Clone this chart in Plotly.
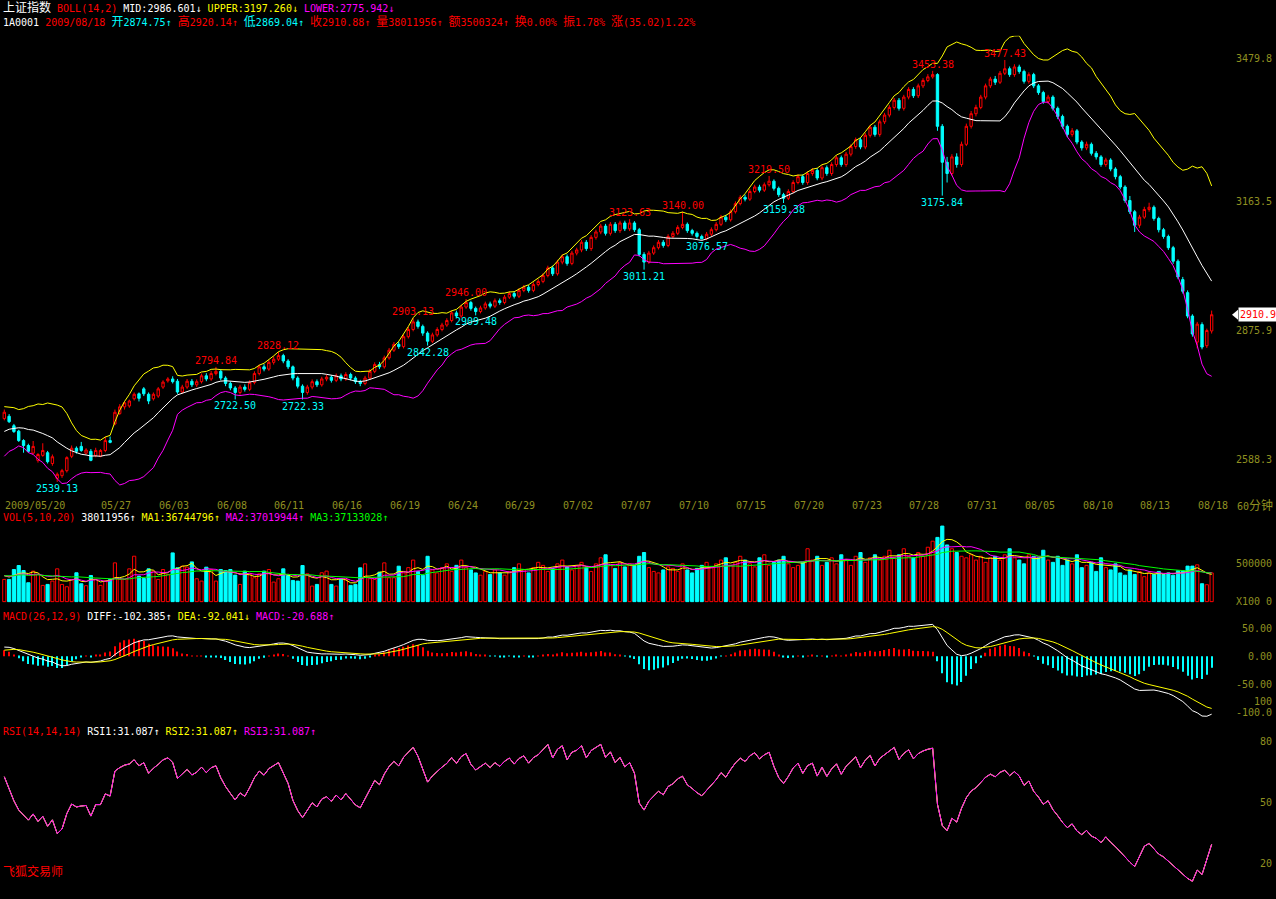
import numpy as np
import pandas as pd
import plotly.graph_objects as go

W, H = 1276, 899
BG = "#000000"
UP = "#ff0000"
DN = "#00ffff"
WHITE = "#ffffff"
YEL = "#ffff00"
MAG = "#ff00ff"
GRN = "#00ff00"
AXC = "#909020"
MONO = "DejaVu Sans Mono, Noto Sans CJK SC, monospace"
NB = "\u00a0"

# ---------------- data (60-minute bars, 4 per trading day) ----------------
day_labels = ["2009/05/20", "05/27", "06/03", "06/08", "06/11", "06/16", "06/19", "06/24",
              "06/29", "07/02", "07/07", "07/10", "07/15", "07/20", "07/23", "07/28",
              "07/31", "08/05", "08/10", "08/13", "08/18"]
day_label_days = [0, 5, 8, 11, 14, 17, 20, 23, 26, 29, 32, 35, 38, 41, 44, 47, 50, 53, 56, 59, 62]
bars_per_day = 4

opens = [
    2680, 2685, 2664, 2652, 2631, 2620, 2603, 2587, 2598, 2604,
    2580, 2547, 2553, 2564, 2596, 2614, 2618, 2603, 2607, 2598,
    2596, 2609, 2631, 2668, 2691, 2706, 2708, 2724, 2735, 2746,
    2734, 2724, 2730, 2750, 2764, 2768, 2763, 2739, 2750, 2763,
    2755, 2762, 2775, 2768, 2780, 2785, 2770, 2758, 2748, 2738,
    2750, 2745, 2760, 2780, 2795, 2790, 2805, 2812, 2820, 2808,
    2795, 2770, 2752, 2738, 2750, 2762, 2755, 2768, 2772, 2765,
    2775, 2768, 2778, 2770, 2762, 2758, 2770, 2785, 2800, 2795,
    2815, 2832, 2845, 2840, 2862, 2878, 2895, 2885, 2870, 2852,
    2866, 2878, 2888, 2898, 2915, 2908, 2928, 2938, 2925, 2918,
    2926, 2935, 2930, 2942, 2938, 2950, 2958, 2952, 2965, 2972,
    2965, 2978, 2985, 2998, 3015, 3002, 3028, 3040, 3025, 3048,
    3055, 3072, 3058, 3083, 3095, 3108, 3092, 3112, 3098, 3115,
    3102, 3115, 3100, 3045, 3028, 3048, 3060, 3072, 3065, 3085,
    3092, 3105, 3112, 3098, 3092, 3085, 3080, 3090, 3100, 3112,
    3128, 3122, 3140, 3158, 3172, 3168, 3185, 3195, 3188, 3200,
    3208, 3192, 3178, 3170, 3185, 3205, 3218, 3205, 3225, 3232,
    3215, 3238, 3225, 3245, 3260, 3245, 3268, 3285, 3300, 3284,
    3310, 3328, 3312, 3340, 3355, 3372, 3388, 3370, 3395, 3412,
    3398, 3420, 3432, 3440, 3445, 3330, 3250, 3225, 3262, 3245,
    3290, 3330, 3358, 3372, 3395, 3420, 3435, 3428, 3448, 3458,
    3445, 3462, 3452, 3430, 3445, 3420, 3405, 3385, 3395, 3370,
    3352, 3330, 3312, 3320, 3295, 3282, 3290, 3270, 3262, 3245,
    3255, 3235, 3218, 3195, 3165, 3140, 3110, 3128, 3145, 3150,
    3125, 3100, 3085, 3060, 3030, 2989, 2960, 2908, 2850, 2889,
    2842, 2874.75]

highs = [
    2700, 2690, 2668, 2655, 2634, 2624, 2630, 2603, 2625, 2608,
    2600, 2560, 2568, 2596, 2620, 2618, 2628, 2614, 2612, 2615,
    2612, 2640, 2640, 2700, 2712, 2718, 2722, 2738, 2738, 2750,
    2738, 2738, 2750, 2765, 2772, 2774, 2768, 2755, 2768, 2768,
    2767, 2780, 2781, 2786, 2794.84, 2790, 2774, 2762, 2752, 2755,
    2756, 2765, 2785, 2800, 2801, 2810, 2818, 2828.12, 2824, 2812,
    2798, 2774, 2756, 2755, 2767, 2767, 2773, 2778, 2776, 2780,
    2780, 2783, 2782, 2774, 2766, 2775, 2790, 2805, 2806, 2820,
    2837, 2850, 2851, 2867, 2884, 2903.13, 2900, 2889, 2874, 2871,
    2883, 2893, 2903, 2920, 2920, 2933, 2946.00, 2942, 2929, 2931,
    2940, 2940, 2947, 2947, 2955, 2963, 2963, 2970, 2977, 2977,
    2983, 2990, 3003, 3020, 3020, 3033, 3045, 3045, 3053, 3060,
    3077, 3077, 3088, 3100, 3113, 3113, 3117, 3117, 3120, 3120,
    3123.63, 3119, 3104, 3050, 3053, 3065, 3077, 3077, 3090, 3097,
    3110, 3140.00, 3116, 3102, 3096, 3089, 3095, 3105, 3117, 3133,
    3133, 3145, 3163, 3177, 3178, 3190, 3200, 3200, 3205, 3219.50,
    3212, 3196, 3182, 3190, 3210, 3223, 3223, 3230, 3237, 3237,
    3243, 3243, 3250, 3265, 3265, 3273, 3290, 3305, 3305, 3315,
    3333, 3333, 3345, 3360, 3377, 3393, 3393, 3400, 3417, 3417,
    3425, 3437, 3446, 3453.38, 3448, 3335, 3262, 3268, 3270, 3296,
    3336, 3364, 3378, 3400, 3425, 3440, 3442, 3453, 3477.43, 3463,
    3468, 3467, 3456, 3450, 3449, 3424, 3409, 3400, 3399, 3374,
    3356, 3334, 3326, 3324, 3299, 3296, 3294, 3275, 3266, 3260,
    3259, 3239, 3222, 3199, 3175, 3144, 3133, 3151, 3160, 3154,
    3129, 3104, 3089, 3064, 3034, 2995, 2965, 2912, 2895, 2894,
    2880, 2920.14]

lows = [
    2676, 2670, 2648, 2628, 2604, 2604, 2600, 2582, 2595, 2580,
    2575, 2539.13, 2548, 2560, 2592, 2602, 2606, 2600, 2585, 2594,
    2594, 2605, 2625, 2665, 2688, 2700, 2704, 2720, 2718, 2730,
    2712, 2720, 2726, 2746, 2760, 2758, 2735, 2736, 2746, 2750,
    2750, 2758, 2763, 2764, 2776, 2765, 2752, 2743, 2722.50, 2733,
    2740, 2741, 2756, 2776, 2785, 2786, 2800, 2808, 2803, 2790,
    2765, 2747, 2722.33, 2733, 2745, 2750, 2751, 2763, 2760, 2761,
    2763, 2764, 2765, 2757, 2752, 2754, 2766, 2781, 2790, 2791,
    2811, 2828, 2835, 2836, 2858, 2874, 2880, 2864, 2842.28, 2848,
    2862, 2874, 2884, 2894, 2903, 2904, 2924, 2920, 2909.48, 2914,
    2922, 2925, 2926, 2933, 2934, 2946, 2947, 2948, 2961, 2960,
    2961, 2974, 2981, 2994, 2997, 2998, 3023, 3020, 3021, 3043,
    3050, 3053, 3053, 3078, 3090, 3087, 3087, 3093, 3093, 3097,
    3097, 3095, 3040, 3011.21, 3024, 3044, 3056, 3060, 3061, 3081,
    3088, 3101, 3093, 3087, 3080, 3078, 3076.57, 3086, 3096, 3108,
    3117, 3118, 3136, 3154, 3163, 3164, 3181, 3183, 3184, 3196,
    3187, 3173, 3159.38, 3166, 3181, 3201, 3200, 3200, 3220, 3210,
    3210, 3220, 3220, 3240, 3240, 3240, 3263, 3280, 3279, 3279,
    3305, 3307, 3307, 3335, 3350, 3367, 3365, 3365, 3390, 3393,
    3393, 3415, 3428, 3436, 3320, 3175.84, 3205, 3220, 3238, 3240,
    3286, 3325, 3352, 3368, 3390, 3415, 3422, 3424, 3444, 3440,
    3440, 3447, 3425, 3425, 3415, 3400, 3380, 3380, 3365, 3346,
    3325, 3306, 3307, 3290, 3276, 3277, 3265, 3256, 3240, 3240,
    3230, 3212, 3190, 3160, 3135, 3095, 3104, 3124, 3140, 3120,
    3094, 3080, 3055, 3024, 2990, 2958, 2903, 2862, 2836, 2834,
    2837, 2869.04]

closes = [
    2694, 2673, 2651, 2631, 2620, 2607, 2618, 2600, 2609, 2584,
    2595, 2556, 2564, 2593, 2614, 2607, 2609, 2610, 2587, 2609,
    2609, 2631, 2627, 2694, 2706, 2715, 2719, 2734, 2725, 2735,
    2719, 2734, 2746, 2761, 2768, 2762, 2739, 2750, 2763, 2755,
    2762, 2775, 2768, 2780, 2785, 2770, 2758, 2748, 2738, 2750,
    2745, 2760, 2780, 2795, 2790, 2805, 2812, 2820, 2808, 2795,
    2770, 2752, 2738, 2750, 2762, 2755, 2768, 2772, 2765, 2775,
    2768, 2778, 2770, 2762, 2758, 2770, 2785, 2800, 2795, 2815,
    2832, 2845, 2840, 2862, 2878, 2895, 2885, 2870, 2852, 2866,
    2878, 2888, 2898, 2915, 2908, 2928, 2938, 2925, 2918, 2926,
    2935, 2930, 2942, 2938, 2950, 2958, 2952, 2965, 2972, 2965,
    2978, 2985, 2998, 3015, 3002, 3028, 3040, 3025, 3048, 3055,
    3072, 3058, 3083, 3095, 3108, 3092, 3112, 3098, 3115, 3102,
    3115, 3100, 3045, 3028, 3048, 3060, 3072, 3065, 3085, 3092,
    3105, 3112, 3098, 3092, 3085, 3080, 3090, 3100, 3112, 3128,
    3122, 3140, 3158, 3172, 3168, 3185, 3195, 3188, 3200, 3208,
    3192, 3178, 3170, 3185, 3205, 3218, 3205, 3225, 3232, 3215,
    3238, 3225, 3245, 3260, 3245, 3268, 3285, 3300, 3284, 3310,
    3328, 3312, 3340, 3355, 3372, 3388, 3370, 3395, 3412, 3398,
    3420, 3432, 3440, 3445, 3330, 3250, 3225, 3262, 3245, 3290,
    3330, 3358, 3372, 3395, 3420, 3435, 3428, 3448, 3458, 3445,
    3462, 3452, 3430, 3445, 3420, 3405, 3385, 3395, 3370, 3352,
    3330, 3312, 3320, 3295, 3282, 3290, 3270, 3262, 3245, 3255,
    3235, 3218, 3195, 3165, 3140, 3110, 3128, 3145, 3150, 3125,
    3100, 3085, 3060, 3030, 2995, 2963, 2908, 2868, 2890, 2839,
    2875.86, 2910.88]

# volume in millions of shares
volumes_m = [
    29.4, 29.4, 42.5, 47.8, 41.2, 25.0, 40.4, 36.0, 21.5, 22.8,
    27.2, 43.4, 22.8, 19.7, 29.4, 38.2, 23.7, 21.1, 34.6, 29.4,
    21.5, 27.2, 29.4, 51.3, 29.4, 29.4, 43.4, 60.1, 33.8, 30.7,
    43.4, 40.4, 29.4, 42.5, 36.0, 64.5, 44.7, 46.9, 45.6, 52.6,
    30.3, 27.2, 45.6, 42.5, 27.2, 42.5, 41.2, 42.5, 35.1, 22.8,
    40.4, 36.8, 31.6, 36.8, 40.4, 42.5, 25.9, 30.3, 43.4, 34.6,
    28.1, 27.2, 47.8, 36.8, 20.6, 22.8, 38.2, 40.4, 22.8, 20.6,
    30.3, 29.4, 21.5, 22.8, 44.7, 50.0, 30.3, 29.4, 39.0, 51.3,
    31.6, 31.6, 46.9, 38, 45, 55, 40, 35, 60, 42,
    38, 45, 50, 40, 48, 55, 45, 42, 38, 35,
    40, 36, 42, 38, 35, 40, 45, 50, 42, 38,
    45, 52, 48, 40, 44, 50, 55, 46, 42, 48,
    52, 45, 40, 50, 58, 62, 48, 44, 52, 46,
    50, 48, 60, 65, 45, 40, 38, 42, 46, 44,
    40, 50, 42, 38, 44, 48, 52, 45, 50, 55,
    58, 48, 52, 60, 55, 50, 46, 58, 62, 48,
    52, 55, 60, 50, 45, 48, 52, 70, 55, 60,
    48, 52, 58, 50, 62, 55, 48, 60, 65, 52,
    58, 62, 55, 60, 68, 58, 62, 70, 60, 58,
    65, 60, 72, 80, 85, 100, 75, 70, 65, 60,
    58, 62, 55, 60, 52, 58, 60, 55, 62, 70,
    58, 55, 50, 62, 60, 58, 68, 55, 52, 60,
    48, 55, 50, 62, 45, 48, 52, 40, 58, 45,
    42, 50, 38, 35, 42, 36, 40, 33, 38, 36,
    40, 36, 38, 35, 41, 40.8, 47, 47, 48.7, 23.7,
    22.4, 38.011956]

# bars before the visible window (warm-up for the indicators)
pre_closes = [2598, 2615, 2600, 2620, 2605, 2625, 2610, 2632, 2615, 2622,
              2640, 2625, 2618, 2635, 2650, 2632, 2620, 2640, 2655, 2638,
              2625, 2610, 2628, 2615, 2630, 2612, 2605, 2625, 2610, 2632,
              2650, 2635, 2648, 2668, 2650, 2665, 2682, 2668, 2686]
pre_volumes_m = [32, 38, 30, 36, 40, 28, 34, 37, 31, 35, 39, 33, 30, 36, 34, 38, 32, 35, 37]

hi_marks = [44, 57, 85, 96, 130, 141, 159, 193, 208]
lo_marks = [11, 48, 62, 88, 98, 133, 146, 162, 195]

price_ticks = [3479.8, 3163.5, 2875.9, 2588.3]
vol_ticks = [500000, 0]
vol_tick_text = ["500000", "X100" + NB + "0"]
macd_ticks = [50, 0, -50, -100]
macd_tick_text = [NB + "50.00", NB + NB + "0.00", "-50.00", "-100.0"]
rsi_ticks = [100, 80, 50, 20]
rsi_tick_text = [NB * 3 + "100", NB * 4 + "80", NB * 4 + "50", NB * 4 + "20"]

readout = dict(mid="2986.601", upper="3197.260", lower="2775.942",
               amount="3500324", turnover="0.00%",
               ma1="36744796", ma2="37019944", ma3="37133028",
               diff="-102.385", dea="-92.041", macd="-20.688",
               rsi1="31.087", rsi2="31.087", rsi3="31.087")

# ---------------- indicators ----------------
n = len(closes)
npre = len(pre_closes)
xi = np.arange(n)
c_all = pd.Series(pre_closes + closes, dtype=float)
mid = c_all.rolling(14).mean()
sd = c_all.rolling(14).std(ddof=1)
b_mid = mid.iloc[npre:].to_numpy()
b_up = (mid + 2 * sd).iloc[npre:].to_numpy()
b_lo = (mid - 2 * sd).iloc[npre:].to_numpy()

ema12 = c_all.ewm(span=12, adjust=False).mean()
ema26 = c_all.ewm(span=26, adjust=False).mean()
dif = ema12 - ema26
dea = dif.ewm(span=9, adjust=False).mean()
macd = 2 * (dif - dea)
dif_v = dif.iloc[npre:].to_numpy()
dea_v = dea.iloc[npre:].to_numpy()
macd_v = macd.iloc[npre:].to_numpy()

chg = c_all.diff().fillna(0)
up_m = chg.clip(lower=0).ewm(alpha=1 / 14, adjust=False).mean()
ab_m = chg.abs().ewm(alpha=1 / 14, adjust=False).mean()
rsi_v = (100 * up_m / ab_m.replace(0, np.nan)).iloc[npre:].to_numpy()

v_all = pd.Series(pre_volumes_m + volumes_m, dtype=float) * 1e4  # units of 100 shares
vol_units = v_all.iloc[len(pre_volumes_m):].to_numpy()
vma = {k: v_all.rolling(k).mean().iloc[len(pre_volumes_m):].to_numpy() for k in (5, 10, 20)}

o = np.array(opens, dtype=float)
c = np.array(closes, dtype=float)
is_up = c >= o

# ---------------- figure ----------------
def fy(px):
    return 1 - px / H


XR = 1228 / W
fig = go.Figure()

fig.add_trace(go.Candlestick(
    x=xi, open=opens, high=highs, low=lows, close=closes,
    increasing=dict(line=dict(color=UP, width=1), fillcolor=BG),
    decreasing=dict(line=dict(color=DN, width=1), fillcolor=DN),
    whiskerwidth=0, yaxis="y", hoverinfo="skip"))
for arr, col in ((b_up, YEL), (b_mid, WHITE), (b_lo, MAG)):
    fig.add_trace(go.Scatter(x=xi, y=arr, mode="lines", line=dict(color=col, width=1),
                             yaxis="y", hoverinfo="skip"))

fig.add_trace(go.Bar(x=xi, y=vol_units, width=0.66, yaxis="y2",
                     marker=dict(color=[BG if u else DN for u in is_up],
                                 line=dict(color=[UP if u else DN for u in is_up], width=1)),
                     hoverinfo="skip"))
for k, col in ((5, YEL), (10, MAG), (20, GRN)):
    fig.add_trace(go.Scatter(x=xi, y=vma[k], mode="lines", line=dict(color=col, width=1),
                             yaxis="y2", hoverinfo="skip"))

fig.add_trace(go.Bar(x=xi, y=macd_v, width=0.24, yaxis="y3",
                     marker=dict(color=[UP if v >= 0 else DN for v in macd_v], line=dict(width=0)),
                     hoverinfo="skip"))
fig.add_trace(go.Scatter(x=xi, y=dif_v, mode="lines", line=dict(color=WHITE, width=1),
                         yaxis="y3", hoverinfo="skip"))
fig.add_trace(go.Scatter(x=xi, y=dea_v, mode="lines", line=dict(color=YEL, width=1),
                         yaxis="y3", hoverinfo="skip"))

for col in (WHITE, YEL, MAG):
    fig.add_trace(go.Scatter(x=xi, y=rsi_v, mode="lines", line=dict(color=col, width=1),
                             yaxis="y4", hoverinfo="skip"))

axis_common = dict(showgrid=False, zeroline=False, showline=False, side="right", anchor="x",
                   ticks="outside", ticklen=5, tickcolor=BG,
                   tickfont=dict(family=MONO, size=10, color=AXC), fixedrange=True)

fig.update_layout(
    width=W, height=H, margin=dict(l=0, r=0, t=0, b=0),
    paper_bgcolor=BG, plot_bgcolor="rgba(0,0,0,0)", showlegend=False, barmode="overlay",
    xaxis=dict(domain=[0, XR], range=[-0.894, 254.4], visible=False,
               rangeslider=dict(visible=False), fixedrange=True),
    yaxis=dict(domain=[fy(497), fy(35)], range=[2509.4, 3531.3],
               tickvals=price_ticks, ticktext=[f"{v:.1f}" for v in price_ticks], **axis_common),
    yaxis2=dict(domain=[fy(606), fy(522)], range=[-26316, 1078947],
                tickvals=vol_ticks, ticktext=vol_tick_text, **axis_common),
    yaxis3=dict(domain=[fy(724), fy(622)], range=[-114.44, 65.14],
                tickvals=macd_ticks, ticktext=macd_tick_text, **axis_common),
    yaxis4=dict(domain=[0, fy(700)], range=[4.26, 102.1],
                tickvals=rsi_ticks, ticktext=rsi_tick_text, **axis_common),
)

ann = []


def span(t, col, size=None):
    st = f"color:{col}"
    if size:
        st += f";font-size:{size}px"
    return f'<span style="{st}">{t}</span>'


def text_at(px_x, px_y, txt, col=WHITE, size=10):
    ann.append(dict(x=px_x / W, y=fy(px_y), xref="paper", yref="paper", text=txt,
                    showarrow=False, xanchor="left", yanchor="middle",
                    font=dict(family=MONO, size=size, color=col)))


last_vol = int(round(volumes_m[-1] * 1e6))
prev_c = closes[-2]
chg_pts = closes[-1] - prev_c
chg_pct = chg_pts / prev_c * 100
amp = (highs[-1] - lows[-1]) / prev_c * 100

line1 = (span("上证指数", WHITE, 12) + NB + span("BOLL(14,2)", UP) + NB +
         span(f"MID:{readout['mid']}↓", WHITE) + NB +
         span(f"UPPER:{readout['upper']}↓", YEL) + NB +
         span(f"LOWER:{readout['lower']}↓", MAG))
text_at(1, 7, line1)

line2 = (span("1A0001", WHITE) + NB + span("2009/08/18", UP) + NB +
         span("开", DN, 12) + span(f"{opens[-1]:.2f}↑", DN) + NB +
         span("高", UP, 12) + span(f"{highs[-1]:.2f}↑", UP) + NB +
         span("低", DN, 12) + span(f"{lows[-1]:.2f}↑", DN) + NB +
         span("收", UP, 12) + span(f"{closes[-1]:.2f}↑", UP) + NB +
         span("量", UP, 12) + span(f"{last_vol}↑", UP) + NB +
         span("额", UP, 12) + span(f"{readout['amount']}↑", UP) + NB +
         span("换", UP, 12) + span(readout['turnover'], UP) + NB +
         span("振", UP, 12) + span(f"{amp:.2f}%", UP) + NB +
         span("涨", UP, 12) + span(f"({chg_pts:.2f}){chg_pct:.2f}%", UP))
text_at(1, 21, line2)

vline = (span("VOL(5,10,20)", UP) + NB + span(f"{last_vol}↑", WHITE) + NB +
         span(f"MA1:{readout['ma1']}↑", YEL) + NB +
         span(f"MA2:{readout['ma2']}↑", MAG) + NB +
         span(f"MA3:{readout['ma3']}↑", GRN))
text_at(1, 519, vline)

mline = (span("MACD(26,12,9)", UP) + NB + span(f"DIFF:{readout['diff']}↑", WHITE) + NB +
         span(f"DEA:{readout['dea']}↓", YEL) + NB + span(f"MACD:{readout['macd']}↑", MAG))
text_at(1, 619, mline)

rline = (span("RSI(14,14,14)", UP) + NB + span(f"RSI1:{readout['rsi1']}↑", WHITE) + NB +
         span(f"RSI2:{readout['rsi2']}↑", YEL) + NB + span(f"RSI3:{readout['rsi3']}↑", MAG))
text_at(1, 735, rline)

text_at(1, 875, "飞狐交易师", UP, 12)
text_at(1235, 507, "60" + span("分钟", AXC, 12), AXC)

for lab, d in zip(day_labels, day_label_days):
    ann.append(dict(x=d * bars_per_day - 0.25, y=fy(507), xref="x", yref="paper", text=lab,
                    showarrow=False, xanchor="left", yanchor="middle",
                    font=dict(family=MONO, size=10, color=AXC)))

for i in hi_marks:
    ann.append(dict(x=i, y=highs[i], xref="x", yref="y", text=f"{highs[i]:.2f}",
                    showarrow=False, xanchor="center", yanchor="bottom", yshift=-1,
                    font=dict(family=MONO, size=10, color=UP)))
for i in lo_marks:
    ann.append(dict(x=i, y=lows[i], xref="x", yref="y", text=f"{lows[i]:.2f}",
                    showarrow=False, xanchor="center", yanchor="top", yshift=1,
                    font=dict(family=MONO, size=10, color=DN)))

# last price flag on the right axis
ann.append(dict(x=1238 / W, y=closes[-1], xref="paper", yref="y", text=f"{closes[-1]:.1f}",
                showarrow=False, xanchor="left", yanchor="middle", bgcolor=WHITE, borderpad=1,
                font=dict(family=MONO, size=10, color=UP)))
dpx = 5 * 2.212
fig.add_shape(type="path", xref="paper", yref="y",
              path=f"M {1232 / W},{closes[-1]} L {1238 / W},{closes[-1] + dpx} L {1238 / W},{closes[-1] - dpx} Z",
              fillcolor=WHITE, line=dict(width=0))

fig.update_layout(annotations=ann)
fig.write_html("out.html", config={"displayModeBar": False},
               post_script="document.body.style.margin='0px';document.body.style.overflow='hidden';document.body.style.background='#000';")
